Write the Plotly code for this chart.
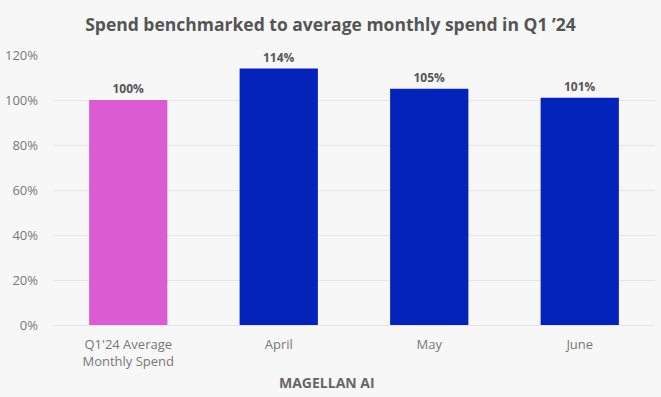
import plotly.graph_objects as go

categories = ["Q1'24 Average<br>Monthly Spend", "April", "May", "June"]
values = [100, 114, 105, 101]
colors = ["#DB5BD3", "#0323BA", "#0323BA", "#0323BA"]
tick_vals = [0, 20, 40, 60, 80, 100, 120]
tick_text = ["0%", "20%", "40%", "60%", "80%", "100%", "120%"]

FONT = "Open Sans"

fig = go.Figure(go.Bar(
    x=categories, y=values,
    marker=dict(color=colors, line=dict(width=0)),
    text=[f"{v}%" for v in values],
    textposition="outside",
    textfont=dict(family=FONT, size=12, color="#555555", weight="bold"),
    cliponaxis=False,
    hoverinfo="skip",
))

fig.update_layout(
    width=661, height=397,
    paper_bgcolor="#F7F7F7", plot_bgcolor="#F7F7F7",
    margin=dict(l=53, r=6, t=55, b=72),
    bargap=0.48,
    showlegend=False,
    title=dict(text="Spend benchmarked to average monthly spend in Q1 ’24",
               x=0.5, xanchor="center", y=0.937, yanchor="middle",
               font=dict(family=FONT, size=17.5, color="#555555", weight="bold")),
    font=dict(family=FONT, color="#777777", size=13),
    xaxis=dict(showgrid=False, showline=False, ticks="", ticklabelstandoff=10,
               tickfont=dict(family=FONT, size=13, color="#777777")),
    yaxis=dict(range=[0, 120], tickvals=tick_vals, ticktext=tick_text,
               showgrid=True, gridcolor="#E4E4E4", gridwidth=1,
               zeroline=True, zerolinecolor="#E4E4E4", zerolinewidth=1,
               showline=False, ticks="", ticklabelstandoff=14,
               tickfont=dict(family=FONT, size=13, color="#777777")),
    annotations=[dict(text="MAGELLAN AI", x=0.455, xref="paper", xanchor="center",
                      y=-0.212, yref="paper", yanchor="middle", showarrow=False,
                      font=dict(family=FONT, size=14, color="#666666", weight="bold"))],
)

fig.write_html("out.html", config={"displayModeBar": False},
               post_script="document.body.style.margin='0';document.body.style.background='#F7F7F7';")
